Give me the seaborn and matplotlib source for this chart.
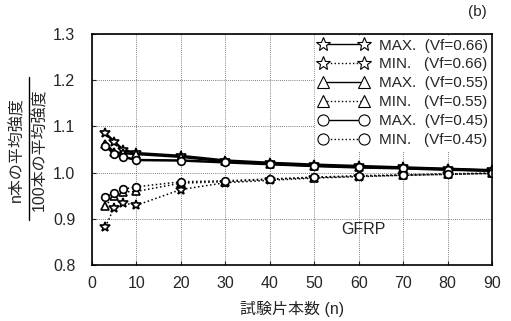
import matplotlib
matplotlib.use("Agg")
import matplotlib.pyplot as plt
from matplotlib.lines import Line2D
import seaborn as sns
import pandas as pd

sns.set_style("ticks")
plt.rcParams["font.family"] = ["Liberation Sans", "Noto Sans CJK JP", "DejaVu Sans"]

# number of specimens
n_values = [3, 5, 7, 10, 20, 30, 40, 50, 60, 70, 80, 90]

# ratio of mean strength of n specimens to mean strength of 100 specimens
max_066 = [1.085, 1.067, 1.049, 1.042, 1.036, 1.026, 1.021, 1.017, 1.014, 1.011, 1.008, 1.005]
min_066 = [0.882, 0.924, 0.934, 0.929, 0.963, 0.978, 0.983, 0.988, 0.991, 0.994, 0.996, 0.998]
max_055 = [1.062, 1.044, 1.042, 1.040, 1.034, 1.024, 1.019, 1.015, 1.012, 1.010, 1.007, 1.004]
min_055 = [0.927, 0.950, 0.958, 0.959, 0.977, 0.980, 0.985, 0.989, 0.992, 0.994, 0.996, 0.998]
max_045 = [1.058, 1.040, 1.034, 1.027, 1.026, 1.022, 1.018, 1.014, 1.011, 1.009, 1.006, 1.004]
min_045 = [0.946, 0.956, 0.964, 0.969, 0.980, 0.982, 0.986, 0.990, 0.993, 0.995, 0.997, 0.999]

series = [
    ("MAX.  (Vf=0.66)", max_066, "*", "-"),
    ("MIN.   (Vf=0.66)", min_066, "*", ":"),
    ("MAX.  (Vf=0.55)", max_055, "^", "-"),
    ("MIN.   (Vf=0.55)", min_055, "^", ":"),
    ("MAX.  (Vf=0.45)", max_045, "o", "-"),
    ("MIN.   (Vf=0.45)", min_045, "o", ":"),
]

x_ticks = [0, 10, 20, 30, 40, 50, 60, 70, 80, 90]
y_ticks = [0.8, 0.9, 1.0, 1.1, 1.2, 1.3]

fig = plt.figure(figsize=(5.11, 3.21), dpi=100)
ax = fig.add_axes([0.180, 0.175, 0.783, 0.719])

handles = []
for label, vals, mk, ls in series:
    df = pd.DataFrame({"n": n_values, "ratio": vals})
    lw = 1.8 if ls == "-" else 1.1
    ms = 7.5 if mk == "*" else 5.5
    sns.lineplot(data=df, x="n", y="ratio", ax=ax, color="black",
                 linestyle=ls, linewidth=lw, marker=mk, markersize=ms,
                 markerfacecolor="white", markeredgecolor="black",
                 markeredgewidth=1.2, zorder=3)
    handles.append(Line2D([], [], color="black", linestyle=ls,
                          linewidth=1.0, marker=mk,
                          markersize=10 if mk == "*" else 8,
                          markerfacecolor="white", markeredgecolor="black",
                          markeredgewidth=0.8, label=label))

ax.set_xlim(0, 90)
ax.set_ylim(0.8, 1.3)
ax.set_xticks(x_ticks)
ax.set_yticks(y_ticks)
ax.set_xticklabels([str(t) for t in x_ticks], fontsize=11.5)
ax.set_yticklabels([f"{t:.1f}" for t in y_ticks], fontsize=11.5)
ax.grid(True, linestyle=(0, (1, 1.5)), color="#555555", linewidth=0.6)
ax.tick_params(direction="in", length=3, width=0.8)
ax.tick_params(axis="x", pad=8)
ax.tick_params(axis="y", pad=12)
for sp in ax.spines.values():
    sp.set_linewidth(1.2)
    sp.set_color("black")
    sp.set_zorder(6)

ax.set_xlabel("試験片本数 (n)", fontsize=11.5, labelpad=7)
ax.set_ylabel("")

leg = ax.legend(handles=handles, loc="upper right", numpoints=2,
                handlelength=3.3, handletextpad=0.65, labelspacing=0.32,
                fontsize=11, frameon=True, fancybox=False,
                borderaxespad=0.1, borderpad=0.2)
leg.get_frame().set_edgecolor("white")
leg.get_frame().set_facecolor("white")
leg.get_frame().set_alpha(1.0)
leg.set_zorder(5)

ax.text(61, 0.877, "GFRP", fontsize=11.5, ha="center", va="center")
fig.text(0.935, 0.962, "(b)", fontsize=11, ha="center", va="center")

# y-axis label written as a fraction
fig.text(0.033, 0.535, "n本の平均強度", rotation=90, fontsize=11.5,
         ha="center", va="center")
fig.text(0.078, 0.535, "100本の平均強度", rotation=90, fontsize=11.5,
         ha="center", va="center")
fig.add_artist(Line2D([0.057, 0.057], [0.315, 0.76], color="black",
                      linewidth=1.0, transform=fig.transFigure))

fig.savefig("out.png", dpi=100)
